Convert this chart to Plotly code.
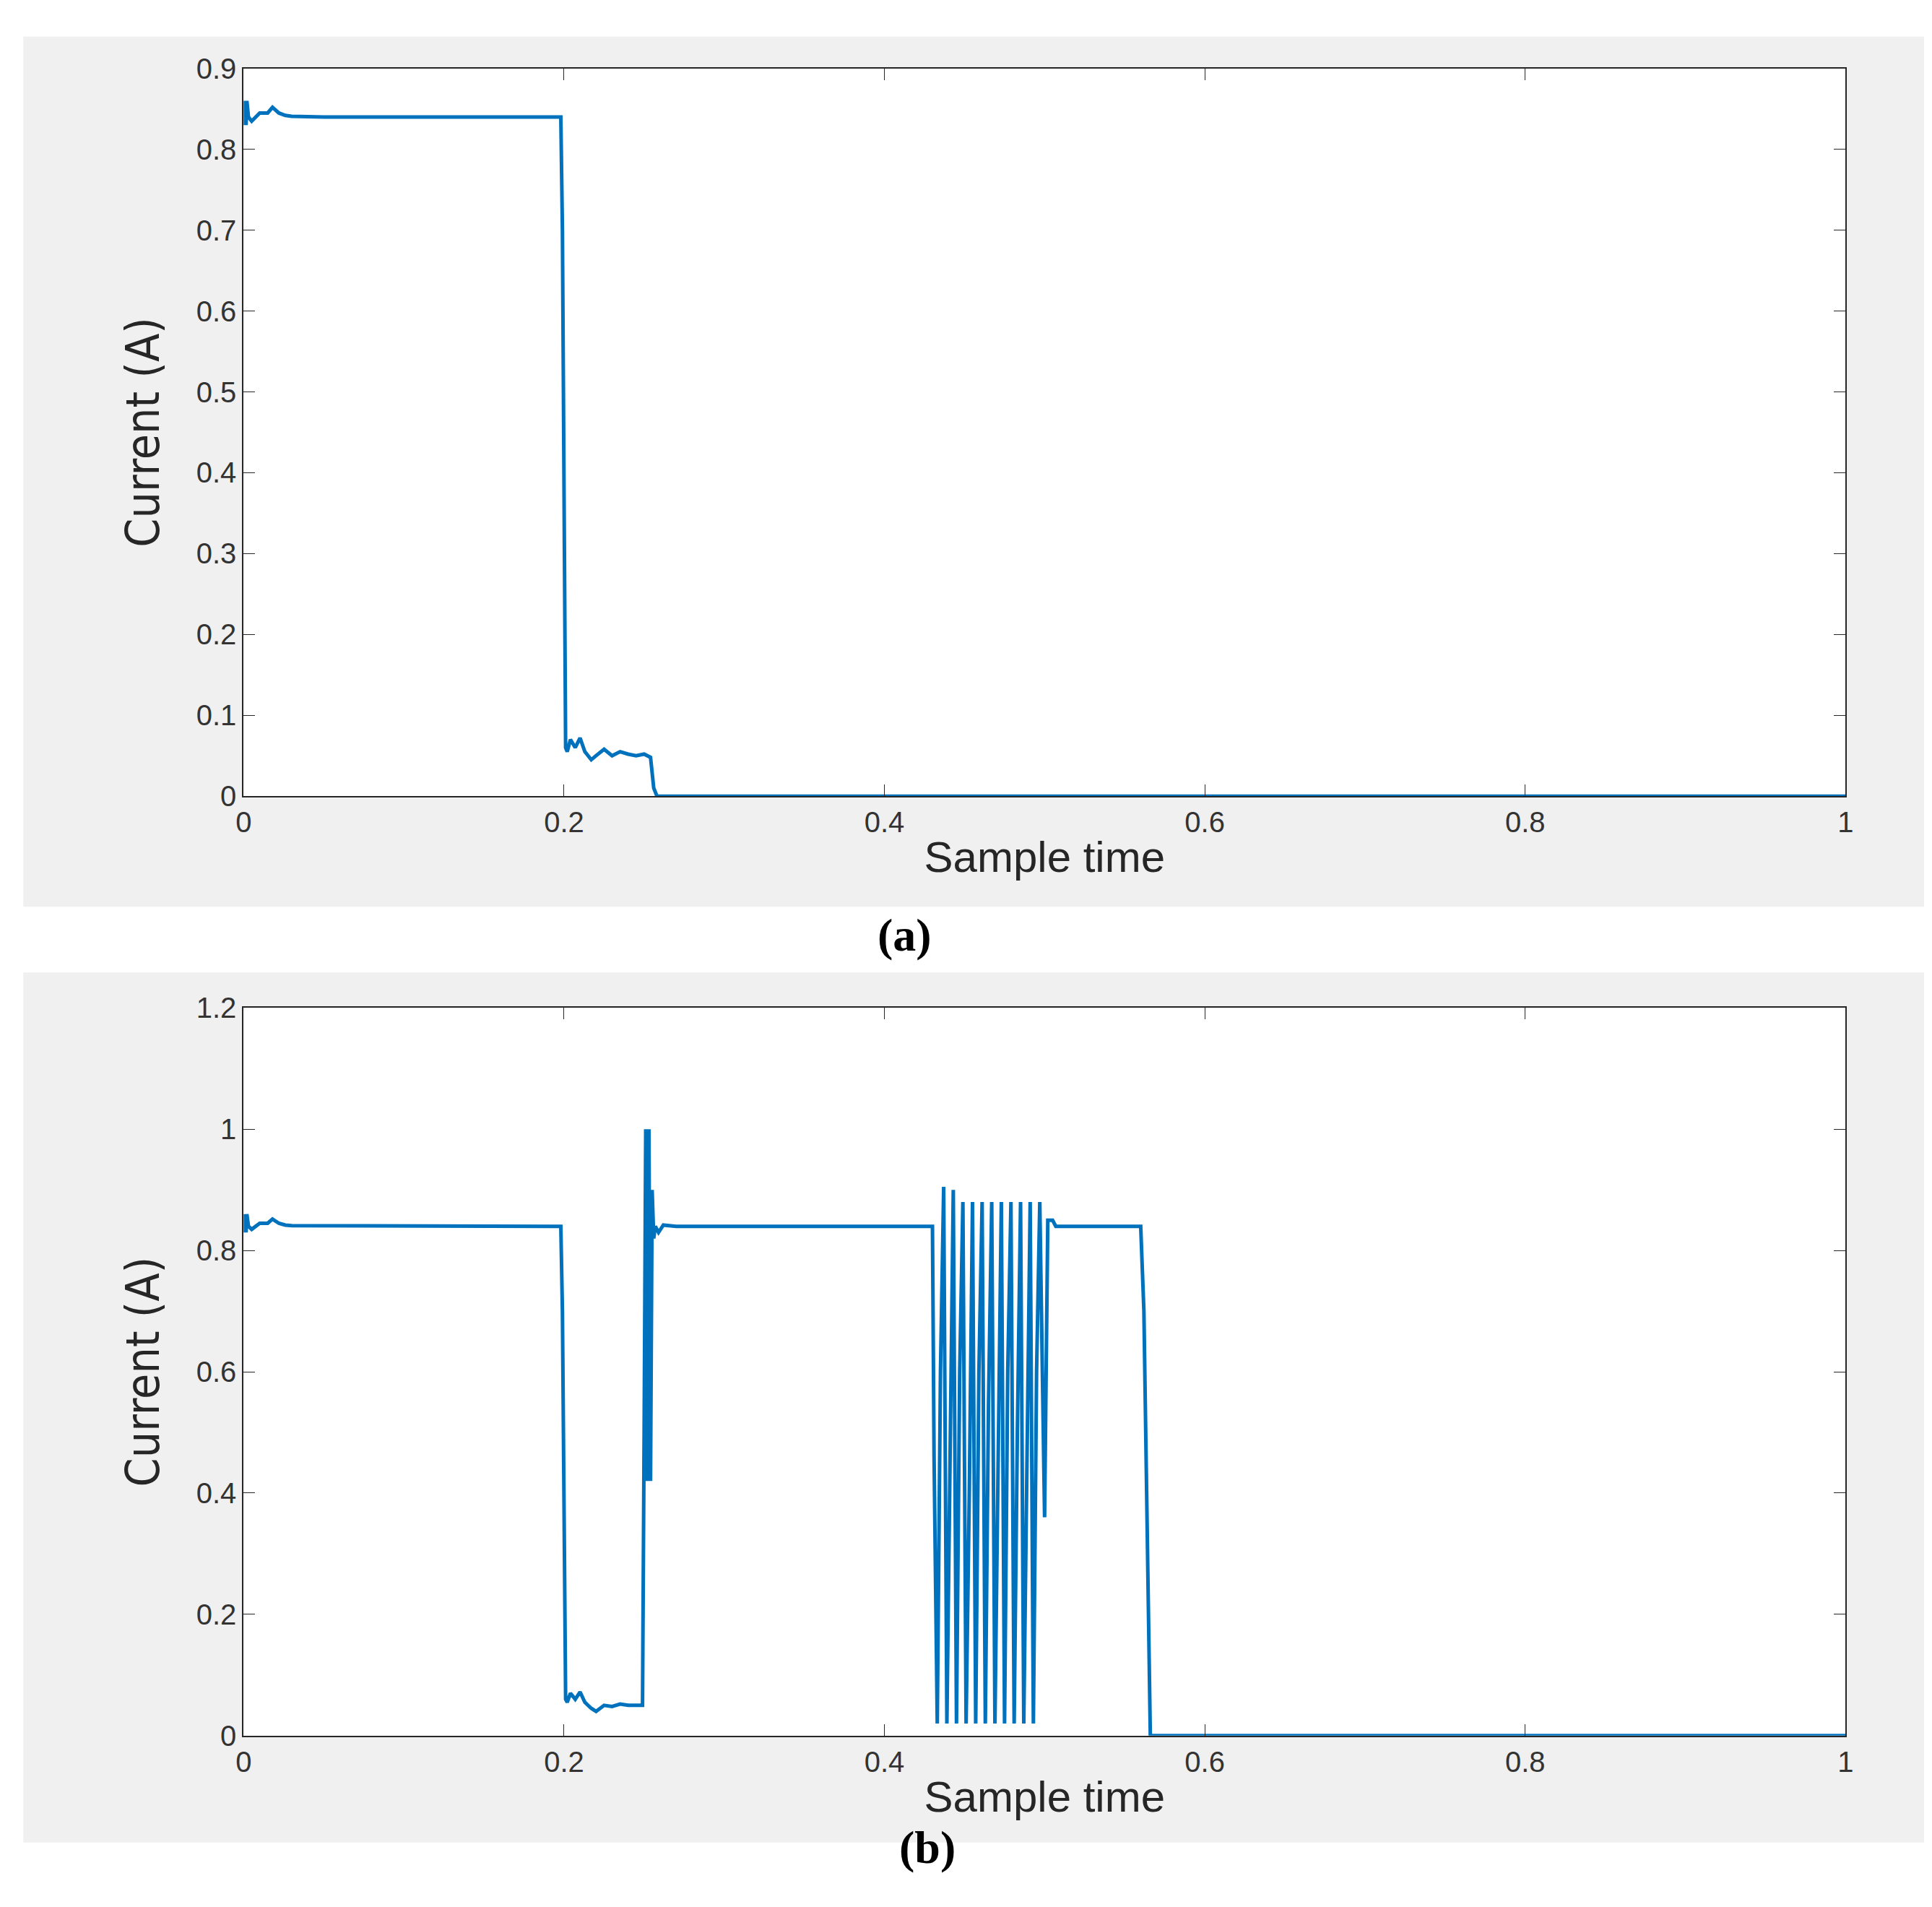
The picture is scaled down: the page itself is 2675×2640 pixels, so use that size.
import plotly.graph_objects as go

# panel (a) current trace
t_a = [0, 0.0005, 0.001, 0.0015, 0.002, 0.003, 0.005, 0.01, 0.015, 0.018, 0.022, 0.026, 0.03, 0.05, 0.09, 0.198,
       0.199, 0.2, 0.201, 0.202, 0.204, 0.207, 0.21, 0.213, 0.217, 0.22, 0.225, 0.23, 0.235, 0.24, 0.245, 0.25, 0.254, 0.256, 0.258,
       0.3, 0.42, 0.45, 0.5, 0.6, 0.8, 1.0]
i_a = [0.85, 0.83, 0.86, 0.83, 0.86, 0.84, 0.835, 0.845, 0.845, 0.852, 0.845, 0.842, 0.841, 0.84, 0.84, 0.84,
       0.7, 0.27, 0.06, 0.055, 0.07, 0.06, 0.072, 0.055, 0.045, 0.05, 0.058, 0.05, 0.055, 0.052, 0.05, 0.052, 0.048, 0.01, 0.0,
       0.0, 0.0, 0.0, 0.0, 0.0, 0.0, 0.0]

# panel (b) current trace
t_b = [0, 0.0005, 0.001, 0.0015, 0.002, 0.003, 0.005, 0.01, 0.015, 0.018, 0.022, 0.026, 0.03, 0.14, 0.198,
       0.199, 0.2, 0.201, 0.202, 0.204, 0.207, 0.21, 0.213, 0.217, 0.22, 0.225, 0.23, 0.235, 0.24, 0.245, 0.249,
       0.25, 0.251, 0.252, 0.253, 0.254, 0.255, 0.256, 0.257, 0.259, 0.262, 0.27, 0.3, 0.43,
       0.431, 0.433, 0.435, 0.437, 0.439, 0.441, 0.443, 0.445, 0.447, 0.449, 0.451, 0.453, 0.455, 0.457, 0.459, 0.461,
       0.463, 0.465, 0.467, 0.469, 0.471, 0.473, 0.475, 0.477, 0.479, 0.481, 0.483, 0.485, 0.487, 0.489, 0.491, 0.493,
       0.495, 0.497, 0.5, 0.502, 0.505, 0.507, 0.51, 0.56, 0.562, 0.564, 0.566, 0.567, 0.6, 0.8, 1.0]
i_b = [0.85, 0.83, 0.86, 0.83, 0.86, 0.84, 0.835, 0.845, 0.845, 0.852, 0.845, 0.842, 0.841, 0.84, 0.84,
       0.7, 0.27, 0.06, 0.055, 0.07, 0.06, 0.072, 0.055, 0.045, 0.04, 0.05, 0.048, 0.052, 0.05, 0.05, 0.05,
       0.5, 1.0, 0.42, 1.0, 0.42, 0.9, 0.82, 0.84, 0.83, 0.842, 0.84, 0.84, 0.84,
       0.46, 0.02, 0.6, 0.905, 0.02, 0.5, 0.9, 0.02, 0.6, 0.88, 0.02, 0.4, 0.88, 0.02, 0.6, 0.88,
       0.02, 0.55, 0.88, 0.02, 0.45, 0.88, 0.02, 0.6, 0.88, 0.02, 0.5, 0.88, 0.02, 0.4, 0.88, 0.02,
       0.6, 0.88, 0.36, 0.85, 0.85, 0.84, 0.84, 0.84, 0.7, 0.3, 0.0, 0.0, 0.0, 0.0, 0.0]

x_ticks = [0, 0.2, 0.4, 0.6, 0.8, 1]
x_labels = ["0", "0.2", "0.4", "0.6", "0.8", "1"]
ya_ticks = [0, 0.1, 0.2, 0.3, 0.4, 0.5, 0.6, 0.7, 0.8, 0.9]
yb_ticks = [0, 0.2, 0.4, 0.6, 0.8, 1, 1.2]

BLUE = "#0072BD"
fig = go.Figure()
fig.add_trace(go.Scatter(x=t_a, y=i_a, mode="lines", line=dict(color=BLUE, width=5), xaxis="x", yaxis="y", showlegend=False))
fig.add_trace(go.Scatter(x=t_b, y=i_b, mode="lines", line=dict(color=BLUE, width=5), xaxis="x2", yaxis="y2", showlegend=False))

tickfont = dict(family="Liberation Sans, Arial", size=40, color="#333333")
ax_common = dict(showgrid=False, zeroline=False, showline=True, linecolor="#262626", linewidth=2, mirror="ticks",
                 ticks="inside", ticklen=16, tickcolor="#262626", tickfont=tickfont)
ytitle_font = dict(family="Liberation Sans Narrow, DejaVu Sans Condensed", size=64, color="#262626")
xa = dict(ax_common, range=[0, 1], tickvals=x_ticks, ticktext=x_labels, domain=[0.120, 0.956],
          title=dict(text="Sample time", font=dict(family="Liberation Sans, Arial", size=60, color="#262626"), standoff=6))
fig.update_layout(
    width=2675, height=2640, margin=dict(l=0, r=0, t=0, b=0),
    paper_bgcolor="white", plot_bgcolor="white",
    xaxis=dict(xa, anchor="y"),
    yaxis=dict(ax_common, range=[0, 0.9], tickvals=ya_ticks, domain=[0.587, 0.975], anchor="x",
               title=dict(text="Current (A)", font=ytitle_font, standoff=30)),
    xaxis2=dict(xa, anchor="y2"),
    yaxis2=dict(ax_common, range=[0, 1.2], tickvals=yb_ticks, domain=[0.086, 0.474], anchor="x2",
                title=dict(text="Current (A)", font=ytitle_font, standoff=30)),
    shapes=[
        dict(type="rect", xref="paper", yref="paper", x0=0.005, x1=0.997, y0=0.528, y1=0.992, fillcolor="#F0F0F0", line=dict(width=0), layer="below"),
        dict(type="rect", xref="paper", yref="paper", x0=0.005, x1=0.997, y0=0.029, y1=0.493, fillcolor="#F0F0F0", line=dict(width=0), layer="below"),
        dict(type="rect", xref="paper", yref="paper", x0=0.120, x1=0.956, y0=0.587, y1=0.975, fillcolor="white", line=dict(width=0), layer="below"),
        dict(type="rect", xref="paper", yref="paper", x0=0.120, x1=0.956, y0=0.086, y1=0.474, fillcolor="white", line=dict(width=0), layer="below"),
    ],
    annotations=[
        dict(text="<b>(a)</b>", xref="paper", yref="paper", x=0.465, y=0.513, showarrow=False,
             font=dict(family="Liberation Serif, Times New Roman", size=64, color="black")),
        dict(text="<b>(b)</b>", xref="paper", yref="paper", x=0.477, y=0.012, showarrow=False,
             font=dict(family="Liberation Serif, Times New Roman", size=64, color="black")),
    ],
)
fig.write_html("out.html")
